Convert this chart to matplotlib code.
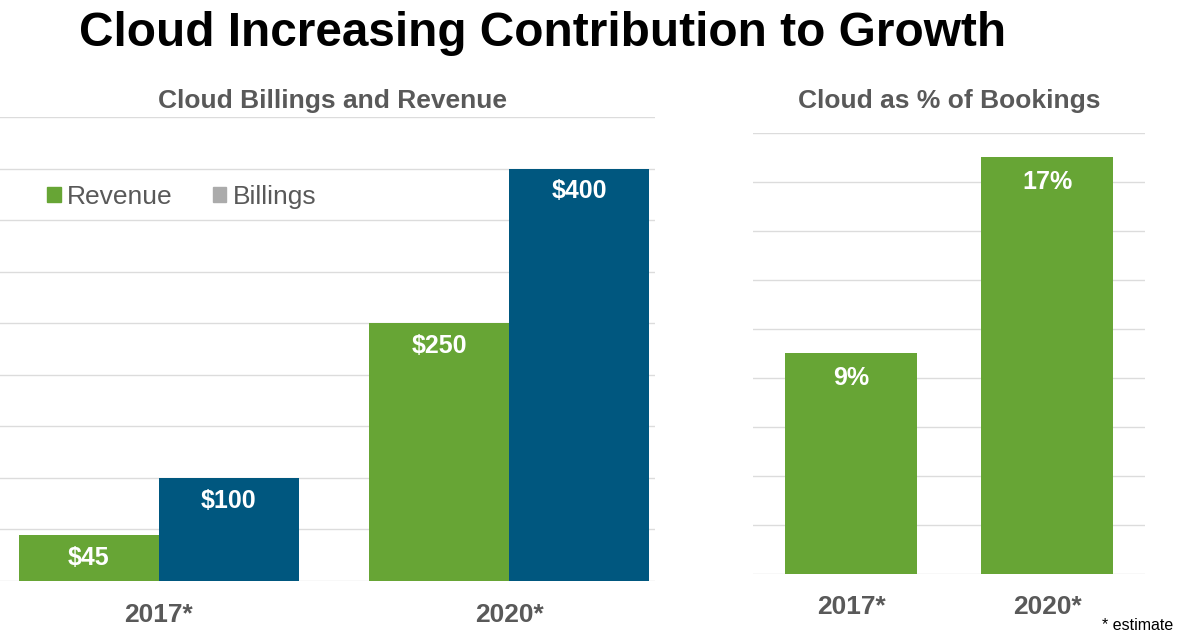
import matplotlib
matplotlib.use("Agg")
import matplotlib.pyplot as plt
from matplotlib.patches import Patch
import numpy as np

plt.rcParams['font.family'] = ['Liberation Sans', 'DejaVu Sans']

# data
years = ['2017*', '2020*']
revenue = [45, 250]
billings = [100, 400]
revenue_labels = ['$45', '$250']
billings_labels = ['$100', '$400']
cloud_pct = [9, 17]
cloud_pct_labels = ['9%', '17%']

# colours
green = '#67A535'
blue = '#00577F'
legend_gray = '#ABABAB'
text_gray = '#595959'
grid_gray = '#DCDCDC'

fig = plt.figure(figsize=(11.77, 6.43), dpi=100)
fig.patch.set_facecolor('white')


def style_axes(ax, ymax, ystep):
    for s in ax.spines.values():
        s.set_visible(False)
    ax.set_ylim(0, ymax)
    ax.set_yticks(np.arange(0, ymax + 0.01, ystep))
    ax.yaxis.grid(True, color=grid_gray, linewidth=1.0)
    ax.set_axisbelow(True)
    ax.tick_params(axis='y', left=False, labelleft=False)
    ax.tick_params(axis='x', length=0, labelsize=19, labelcolor=text_gray)
    for lab in ax.get_xticklabels():
        lab.set_fontweight('bold')


# left panel: billings and revenue
ax1 = fig.add_axes([0.0, 0.0964, 0.5565, 0.7216])
x = np.arange(len(years))
w = 0.4
b_rev = ax1.bar(x - w / 2, revenue, w, color=green)
b_bil = ax1.bar(x + w / 2, billings, w, color=blue)
ax1.set_xlim(-0.454, 1.417)
ax1.set_xticks(x)
ax1.set_xticklabels(years, fontweight='bold')
style_axes(ax1, 450, 50)
ax1.tick_params(axis='x', pad=16)

for bars, labels in [(b_rev, revenue_labels), (b_bil, billings_labels)]:
    for rect, lab in zip(bars, labels):
        ax1.annotate(lab, (rect.get_x() + rect.get_width() / 2, rect.get_height()),
                     xytext=(0, -16.5), textcoords='offset points',
                     ha='center', va='center', color='white',
                     fontsize=18, fontweight='bold')

handles = [Patch(color=green, label='Revenue'), Patch(color=legend_gray, label='Billings')]
fig.legend(handles=handles, loc='center left', bbox_to_anchor=(47 / 1177, 1 - 197 / 643),
           ncol=2, frameon=False, fontsize=19, labelcolor=text_gray,
           handlelength=0.52, handleheight=0.52, handletextpad=0.25,
           columnspacing=1.5, borderpad=0, borderaxespad=0)

# right panel: cloud as % of bookings
ax2 = fig.add_axes([0.6398, 0.1073, 0.3331, 0.6859])
b_pct = ax2.bar(x, cloud_pct, 0.67, color=green)
ax2.set_xlim(-0.5, 1.5)
ax2.set_xticks(x)
ax2.set_xticklabels(years, fontweight='bold')
style_axes(ax2, 18, 2)
ax2.tick_params(axis='x', pad=15)
for rect, lab in zip(b_pct, cloud_pct_labels):
    ax2.annotate(lab, (rect.get_x() + rect.get_width() / 2, rect.get_height()),
                 xytext=(0, -18), textcoords='offset points',
                 ha='center', va='center', color='white',
                 fontsize=18, fontweight='bold')

# titles
fig.text(543 / 1177, 1 - 46 / 643, 'Cloud Increasing Contribution to Growth',
         ha='center', va='baseline', fontsize=34.4, fontweight='bold', color='black')
fig.text(332 / 1177, 1 - 108 / 643, 'Cloud Billings and Revenue',
         ha='center', va='baseline', fontsize=19, fontweight='bold', color=text_gray)
fig.text(949 / 1177, 1 - 108 / 643, 'Cloud as % of Bookings',
         ha='center', va='baseline', fontsize=19, fontweight='bold', color=text_gray)
fig.text(1173 / 1177, 1 - 625 / 643, '* estimate',
         ha='right', va='center', fontsize=11.5, color='black')

fig.savefig('out.png', dpi=100, facecolor='white')
